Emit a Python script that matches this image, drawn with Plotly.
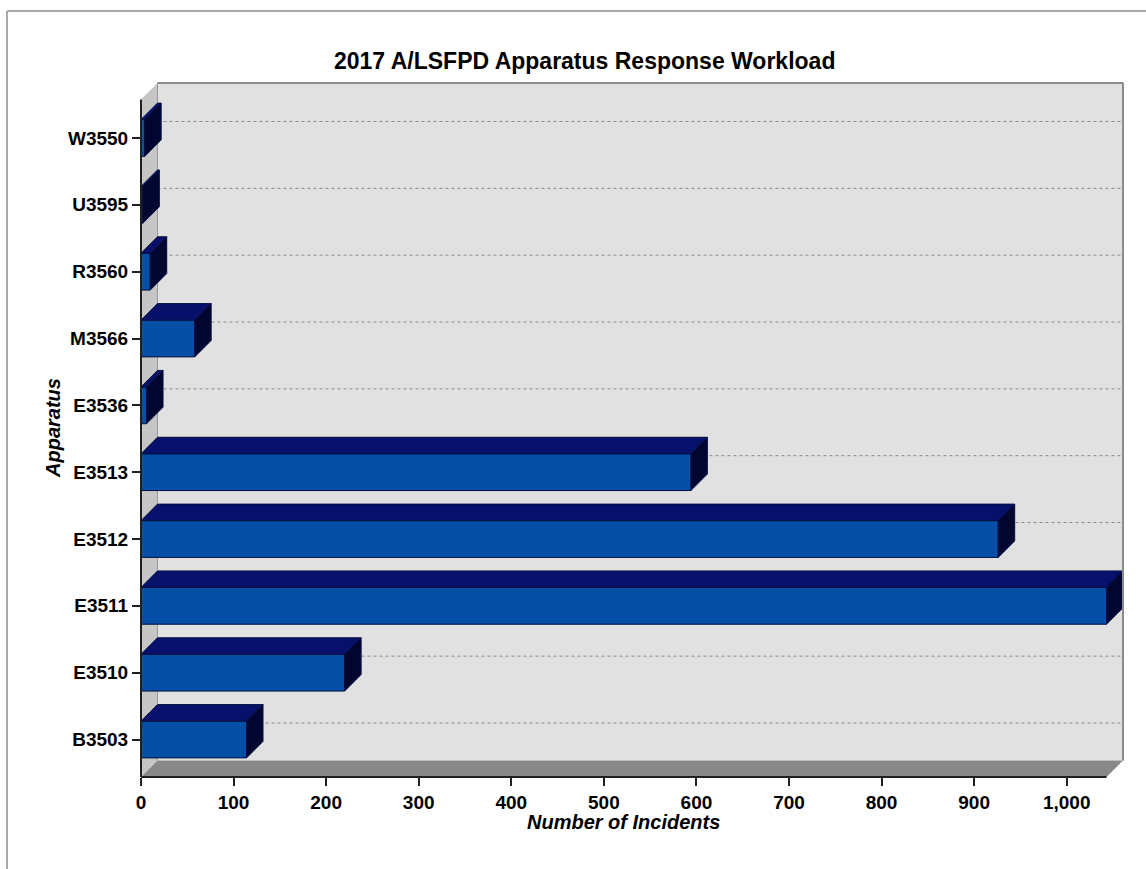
import plotly.graph_objects as go

# ---- data ----
apparatus = ["B3503", "E3510", "E3511", "E3512", "E3513", "E3536", "M3566", "R3560", "U3595", "W3550"]
incidents = [114, 220, 1043, 926, 594, 6, 58, 10, 2, 4]
x_ticks = [0, 100, 200, 300, 400, 500, 600, 700, 800, 900, 1000]
title_text = "2017 A/LSFPD Apparatus Response Workload"
x_title = "Number of Incidents"
y_title = "Apparatus"

# ---- style / geometry ----
W, H = 1146, 869
ML, MR, MT, MB = 141, 23, 83, 92
XMAX = 1060.8
YMIN, YMAX = -0.561, 9.823
DX, DY = 17.8, 0.247          # 3-D depth offsets in data units
HALF = 0.275                  # half bar thickness

FRONT = "#0550A6"
TOP = "#07106A"
SIDE = "#020530"
EDGE = "#021040"
BACK = "#E1E1E1"
LWALL = "#C6C6C6"
FLOOR = "#888888"
FONT = "Liberation Sans"

ypos = list(range(len(apparatus)))

fig = go.Figure()

# top faces and side faces (polygons built from values)
tx, ty, sx, sy = [], [], [], []
for yi, v in zip(ypos, incidents):
    tx += [0, v, v + DX, DX, 0, None]
    ty += [yi + HALF, yi + HALF, yi + HALF + DY, yi + HALF + DY, yi + HALF, None]
    sx += [v, v + DX, v + DX, v, v, None]
    sy += [yi - HALF, yi - HALF + DY, yi + HALF + DY, yi + HALF, yi - HALF, None]

fig.add_trace(go.Bar(
    x=incidents, y=ypos, orientation="h", width=2 * HALF,
    marker=dict(color=FRONT, line=dict(color=EDGE, width=1)),
    hoverinfo="x+text", text=apparatus, textposition="none", showlegend=False))
fig.add_trace(go.Scatter(x=tx, y=ty, mode="lines", fill="toself", fillcolor=TOP,
                         line=dict(color=EDGE, width=1), hoverinfo="skip", showlegend=False))
fig.add_trace(go.Scatter(x=sx, y=sy, mode="lines", fill="toself", fillcolor=SIDE,
                         line=dict(color=EDGE, width=1), hoverinfo="skip", showlegend=False))

shapes = []
# back wall
shapes.append(dict(type="rect", xref="x", yref="y", x0=DX, x1=XMAX, y0=YMIN + DY, y1=YMAX,
                   fillcolor=BACK, line=dict(width=0), layer="below"))
# gridlines on back wall
for yi in ypos:
    shapes.append(dict(type="line", xref="x", yref="y", x0=DX, x1=XMAX, y0=yi + DY, y1=yi + DY,
                       line=dict(color="#8A8A8A", width=1, dash="dot"), layer="below"))
# left wall
shapes.append(dict(type="path", xref="x", yref="y", layer="below",
                   path=f"M0,{YMIN} L0,{YMAX - DY} L{DX},{YMAX} L{DX},{YMIN + DY} Z",
                   fillcolor=LWALL, line=dict(width=0)))
# floor
shapes.append(dict(type="path", xref="x", yref="y", layer="below",
                   path=f"M0,{YMIN} L{XMAX - DX},{YMIN} L{XMAX},{YMIN + DY} L{DX},{YMIN + DY} Z",
                   fillcolor=FLOOR, line=dict(width=0)))
# back wall border (top & right)
shapes.append(dict(type="line", xref="paper", yref="paper", x0=DX / XMAX, x1=1, y0=1, y1=1,
                   line=dict(color="#8C8C8C", width=2)))
shapes.append(dict(type="line", xref="paper", yref="paper", x0=1, x1=1,
                   y0=(DY) / (YMAX - YMIN), y1=1, line=dict(color="#8C8C8C", width=2)))
# left wall back edge
shapes.append(dict(type="line", xref="x", yref="y", x0=DX, x1=DX, y0=YMIN + DY, y1=YMAX,
                   line=dict(color="#9A9A9A", width=1), layer="below"))
# axis lines
shapes.append(dict(type="line", xref="paper", yref="paper", x0=0, x1=(XMAX - DX) / XMAX, y0=0, y1=0,
                   line=dict(color="#202020", width=2)))
shapes.append(dict(type="line", xref="paper", yref="paper", x0=0, x1=0, y0=0,
                   y1=(YMAX - DY - YMIN) / (YMAX - YMIN), line=dict(color="#202020", width=2)))
# outer frame: left and top edges only (the rest runs off the page)
pw, ph = W - ML - MR, H - MT - MB
fx0 = (7 - ML) / pw
fx1 = (W + 40 - ML) / pw
fy1 = (H - MB - 11) / ph
fy0 = (H - MB - (H + 40)) / ph
shapes.append(dict(type="line", xref="paper", yref="paper", x0=fx0, x1=fx0, y0=fy0, y1=fy1,
                   line=dict(color="#A8A8A8", width=2), layer="below"))
shapes.append(dict(type="line", xref="paper", yref="paper", x0=fx0, x1=fx1, y0=fy1, y1=fy1,
                   line=dict(color="#A8A8A8", width=2), layer="below"))

annotations = [
    dict(text=f"<b>{title_text}</b>", xref="paper", yref="paper",
         x=(584 - ML) / pw, y=(H - MB - 61) / ph, showarrow=False,
         font=dict(family=FONT, size=23, color="black"), xanchor="center", yanchor="middle"),
    dict(text=f"<b><i>{x_title}</i></b>", xref="paper", yref="paper",
         x=(623 - ML) / pw, y=(H - MB - 822) / ph, showarrow=False,
         font=dict(family=FONT, size=20, color="black"), xanchor="center", yanchor="middle"),
    dict(text=f"<b><i>{y_title}</i></b>", xref="paper", yref="paper", textangle=-90,
         x=(53 - ML) / pw, y=(H - MB - 428) / ph, showarrow=False,
         font=dict(family=FONT, size=20, color="black"), xanchor="center", yanchor="middle"),
]

fig.update_layout(
    width=W, height=H,
    margin=dict(l=ML, r=MR, t=MT, b=MB, pad=0),
    paper_bgcolor="white", plot_bgcolor="white",
    shapes=shapes, annotations=annotations, showlegend=False,
    xaxis=dict(range=[0, XMAX], tickvals=x_ticks, tickformat=",", showgrid=False, zeroline=False,
               showline=False, ticks="outside", ticklen=8, tickwidth=2, tickcolor="#202020",
               tickfont=dict(family=FONT, size=19, color="black", weight="bold"), fixedrange=True),
    yaxis=dict(range=[YMIN, YMAX], tickvals=ypos, ticktext=apparatus, showgrid=False, zeroline=False,
               showline=False, ticks="outside", ticklen=8, tickwidth=2, tickcolor="#202020",
               tickfont=dict(family=FONT, size=19, color="black", weight="bold"), fixedrange=True),
)

fig.write_html("out.html")
